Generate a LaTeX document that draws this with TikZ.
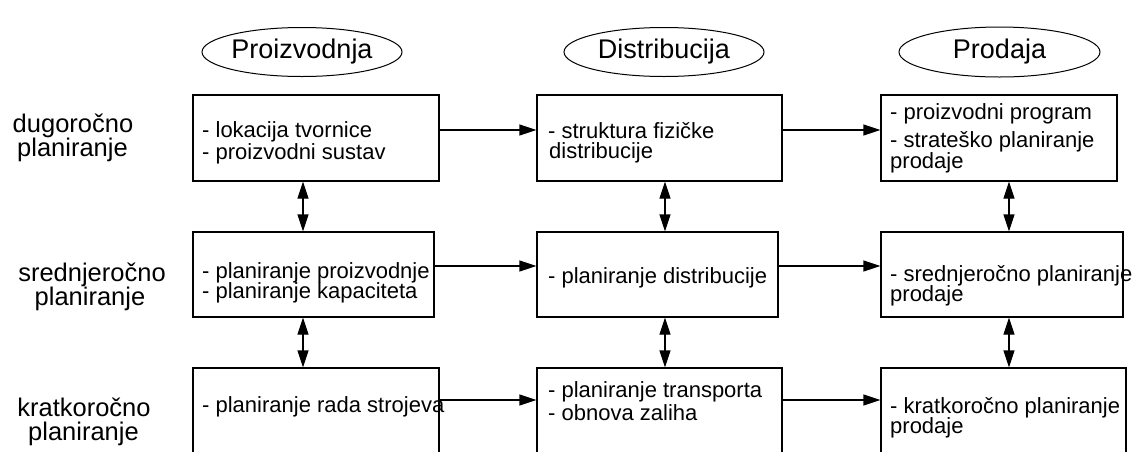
\documentclass[tikz,border=0pt]{standalone}
\usepackage{fontspec}
\setmainfont{Liberation Sans}
\usetikzlibrary{arrows.meta,shapes.geometric}
\begin{document}
\begin{tikzpicture}[x=1pt,y=-1pt,
  box/.style={draw,line width=1.2pt,rectangle,inner sep=0pt},
  hdr/.style={draw,line width=1pt,ellipse,minimum width=200pt,minimum height=49pt,inner sep=0pt,font=\fontsize{27}{30}\selectfont},
  txt/.style={anchor=base west,inner sep=0pt,font=\fontsize{22}{24}\selectfont},
  lbl/.style={anchor=base,inner sep=0pt,font=\fontsize{25.5}{28}\selectfont},
  arr/.style={line width=1.2pt,-{Triangle[length=17pt,width=11pt]}},
  dbl/.style={line width=1.2pt,{Triangle[length=17pt,width=11pt]}-{Triangle[length=17pt,width=11pt]}}]
\clip (0,0) rectangle (1141,451);
\fill[white] (0,0) rectangle (1141,451);
% headers
\node[hdr] (E1) at (302,52) {Proizvodnja};
\node[hdr] (E2) at (664,52) {Distribucija};
\node[hdr,minimum width=201pt,minimum height=50pt] (E3) at (999.5,52) {Prodaja};
% row labels
\node[lbl] (L1a) at (73,132) {dugoročno};
\node[lbl] (L1b) at (72.5,156.5) {planiranje};
\node[lbl] (L2a) at (92,281) {srednjeročno};
\node[lbl] (L2b) at (90,305.5) {planiranje};
\node[lbl] (L3a) at (84,416) {kratkoročno};
\node[lbl] (L3b) at (83.5,440.5) {planiranje};
% boxes
\node[box,minimum width=246pt,minimum height=86pt] (B11) at (316,138) {};
\node[box,minimum width=245pt,minimum height=86pt] (B12) at (659.5,138) {};
\node[box,minimum width=236pt,minimum height=86pt] (B13) at (999,138) {};
\node[box,minimum width=241pt,minimum height=85pt] (B21) at (313.5,274.5) {};
\node[box,minimum width=241pt,minimum height=85pt] (B22) at (657.5,274.5) {};
\node[box,minimum width=242pt,minimum height=85pt] (B23) at (1002,274.5) {};
\node[box,minimum width=246pt,minimum height=102pt] (B31) at (316,419) {};
\node[box,minimum width=245pt,minimum height=102pt] (B32) at (659.5,419) {};
\node[box,minimum width=245pt,minimum height=102pt] (B33) at (1003.5,419) {};
% box texts
\node[txt] (T11a) at (202,137) {- lokacija tvornice};
\node[txt] (T11b) at (202,159) {- proizvodni sustav};
\node[txt] (T12a) at (548,138) {- struktura fizičke};
\node[txt] (T12b) at (549,158) {distribucije};
\node[txt] (T13a) at (890,119) {- proizvodni program};
\node[txt] (T13b) at (890,147) {- strateško planiranje};
\node[txt] (T13c) at (890,168) {prodaje};
\node[txt] (T21a) at (202,278) {- planiranje proizvodnje};
\node[txt] (T21b) at (202,298) {- planiranje kapaciteta};
\node[txt] (T22a) at (548,283) {- planiranje distribucije};
\node[txt] (T23a) at (890,281) {- srednjeročno planiranje};
\node[txt] (T23b) at (890,301) {prodaje};
\node[txt] (T31a) at (202,412) {- planiranje rada strojeva};
\node[txt] (T32a) at (548,397) {- planiranje transporta};
\node[txt] (T32b) at (548,420) {- obnova zaliha};
\node[txt] (T33a) at (890,413) {- kratkoročno planiranje};
\node[txt] (T33b) at (890,433) {prodaje};
% reference coordinates
\coordinate (r1) at (0,130);
\coordinate (r2) at (0,266);
\coordinate (r3) at (0,400);
\coordinate (c1) at (303,0);
\coordinate (c2) at (665,0);
\coordinate (c3) at (1009,0);
% horizontal arrows
\draw[arr] (B11.east |- r1) -- (B12.west |- r1);
\draw[arr] (B12.east |- r1) -- (B13.west |- r1);
\draw[arr] (B21.east |- r2) -- (B22.west |- r2);
\draw[arr] (B22.east |- r2) -- (B23.west |- r2);
\draw[arr] (B31.east |- r3) -- (B32.west |- r3);
\draw[arr] (B32.east |- r3) -- (B33.west |- r3);
% vertical arrows
\draw[dbl] (B11.south -| c1) -- (B21.north -| c1);
\draw[dbl] (B21.south -| c1) -- (B31.north -| c1);
\draw[dbl] (B12.south -| c2) -- (B22.north -| c2);
\draw[dbl] (B22.south -| c2) -- (B32.north -| c2);
\draw[dbl] (B13.south -| c3) -- (B23.north -| c3);
\draw[dbl] (B23.south -| c3) -- (B33.north -| c3);
\end{tikzpicture}
\end{document}
